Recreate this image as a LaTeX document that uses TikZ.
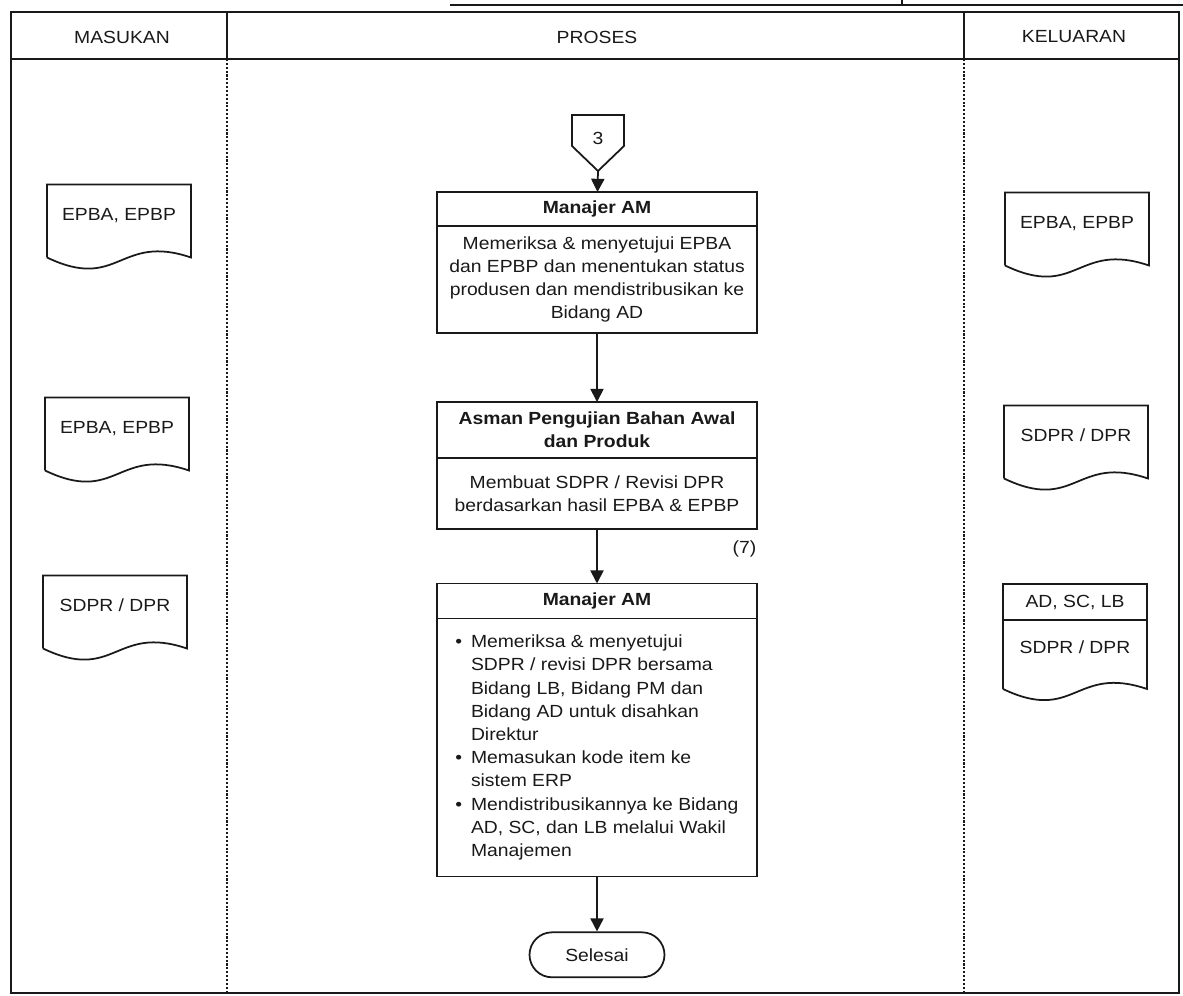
\documentclass[tikz,border=0pt]{standalone}
\usepackage{fontspec}
\setmainfont{Liberation Sans}[FakeStretch=1.1]
\usetikzlibrary{positioning,arrows.meta}

\begin{document}
\begin{tikzpicture}[x=0.02cm, y=-0.02cm, color=black!90, line width=1pt,
    font=\fontsize{10}{13.2}\selectfont,
    lane/.style={densely dotted, line width=1.2pt},
    doc/.style={minimum width=2.88cm, minimum height=1.46cm, text height=7pt, text depth=8pt, inner sep=0pt, outer sep=0pt},
    head/.style={draw, minimum width=6.4cm, inner sep=0pt, outer sep=0pt, align=center, font=\fontsize{10}{13.2}\selectfont\bfseries},
    body/.style={draw, minimum width=6.4cm, inner sep=0pt, outer sep=0pt, align=center},
    arr/.style={-{Triangle[length=7.5pt,width=7.5pt]}}]
    \useasboundingbox (0,0) rectangle (1183,996);

    \draw (450,5) -- (1183,5);
    \draw (902,0) -- (902,5);
    \draw[line width=1.3pt] (11,12) rectangle (1179,993);
    \draw[line width=1.2pt] (11,59) -- (1179,59);
    \draw (227,12) -- (227,59);
    \draw (964,12) -- (964,59);
    \draw[lane] (227,59) -- (227,993);
    \draw[lane] (964,59) -- (964,993);

    \node (hMasukan) at (122,37) {MASUKAN};
    \node (hProses) at (597,37) {PROSES};
    \node (hKeluaran) at (1074,37) {KELUARAN};

    \node[doc] (inA) at (119,221) {EPBA, EPBP};
    \node[doc] (inB) at (117,434) {EPBA, EPBP};
    \node[doc] (inC) at (115,612) {SDPR / DPR};

    \node[doc] (outA) at (1077,229) {EPBA, EPBP};
    \node[doc] (outB) at (1076,442) {SDPR / DPR};
    \node[draw, minimum width=2.88cm, minimum height=0.72cm, inner sep=0pt, outer sep=0pt] (outCh) at (1075,602) {AD, SC, LB};
    \node[doc, minimum height=1.38cm, below=0pt of outCh] (outC) {SDPR / DPR};

    \foreach \d in {inA,inB,inC,outA,outB,outC}
        \draw (\d.south west) -- (\d.north west) -- (\d.north east) -- (\d.south east)
            .. controls ([yshift=0.49cm]\d.south) and ([yshift=-0.69cm]\d.south) .. (\d.south west);

    \draw (572,115) -- (624,115) -- (624,146) -- (598,171) -- (572,146) -- cycle;
    \node (conn3) at (598,138) {3};
    \coordinate (tip3) at (598,171);

    \node[head, minimum height=0.68cm] (hd1) at (597,209) {Manajer AM};
    \node[body, minimum height=2.14cm, below=0pt of hd1] (bd1) {Memeriksa \& menyetujui EPBA\\ dan EPBP dan menentukan status\\ produsen dan mendistribusikan ke\\ Bidang AD};

    \node[head, minimum height=1.12cm] (hd2) at (597,430) {Asman Pengujian Bahan Awal\\ dan Produk};
    \node[body, minimum height=1.42cm, below=0pt of hd2] (bd2) {Membuat SDPR / Revisi DPR\\ berdasarkan hasil EPBA \& EPBP};
    \node[below left=0.1cm and -0.12cm of bd2.south east] (seven) {(7)};

    \node[head, minimum height=0.7cm] (hd3) at (597,601) {Manajer AM};
    \node[body, minimum height=5.16cm, below=0pt of hd3] (bd3) {\begin{tabular}{@{}l@{\hspace{5pt}}l@{}}
        \textbullet & Memeriksa \& menyetujui\\
        & SDPR / revisi DPR bersama\\
        & Bidang LB, Bidang PM dan\\
        & Bidang AD untuk disahkan\\
        & Direktur\\
        \textbullet & Memasukan kode item ke\\
        & sistem ERP\\
        \textbullet & Mendistribusikannya ke Bidang\\
        & AD, SC, dan LB melalui Wakil\\
        & Manajemen
    \end{tabular}};

    \node[draw, rounded corners=0.45cm, minimum width=2.7cm, minimum height=0.9cm, below=1.1cm of bd3] (selesai) {Selesai};

    \draw[arr] (tip3) -- (hd1);
    \draw[arr] (bd1) -- (hd2);
    \draw[arr] (bd2) -- (hd3);
    \draw[arr] (bd3) -- (selesai);
\end{tikzpicture}
\end{document}
